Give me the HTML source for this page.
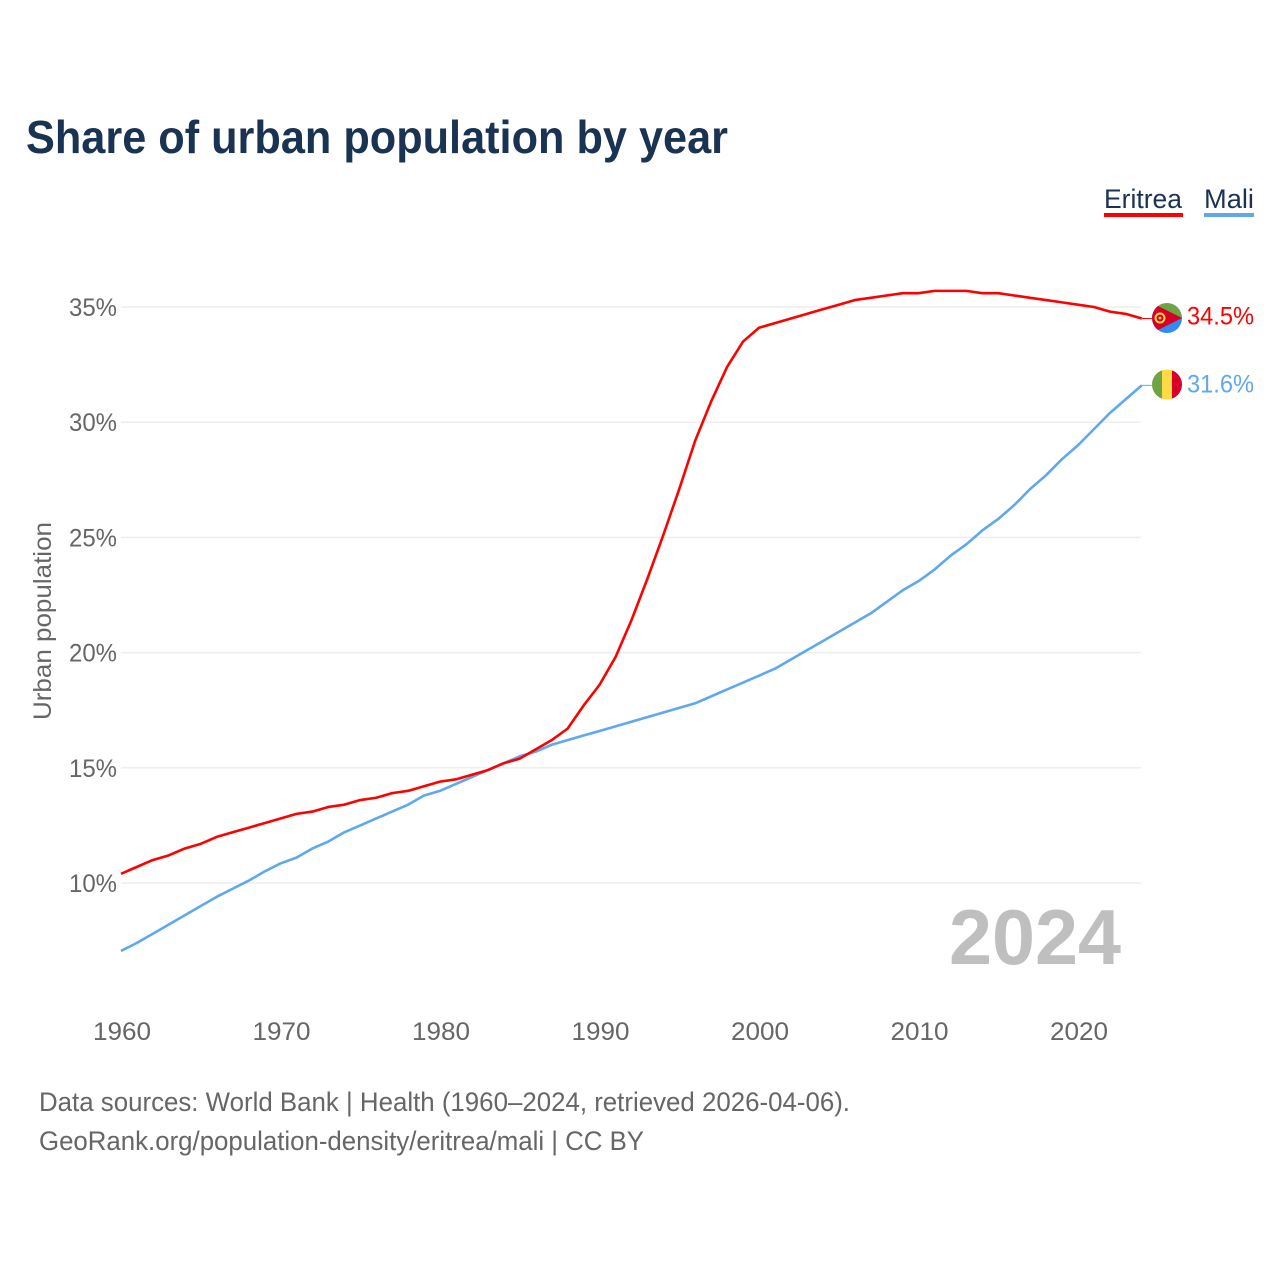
<!DOCTYPE html>
<html><head><meta charset="utf-8"><title>Share of urban population by year</title>
<style>html,body{margin:0;padding:0;background:#fff}svg{display:block}text{font-family:"Liberation Sans",sans-serif}</style></head>
<body>
<svg id="chart" width="1280" height="1280" viewBox="0 0 1280 1280" xmlns="http://www.w3.org/2000/svg">
<text x="26" y="153" font-size="46" font-weight="700" fill="#1a3353" textLength="702" lengthAdjust="spacingAndGlyphs">Share of urban population by year</text>
<g id="grid"></g><g id="yticks"></g><g id="xticks"></g>
<text transform="translate(51,621) rotate(-90)" text-anchor="middle" font-size="25" fill="#666" textLength="198" lengthAdjust="spacingAndGlyphs">Urban population</text>
<text x="949" y="964" font-size="78" font-weight="700" fill="#bfbfbf" textLength="172" lengthAdjust="spacingAndGlyphs">2024</text>
<g id="series"></g>
<g>
<text x="1104" y="208" font-size="27" fill="#1a3353" textLength="78" lengthAdjust="spacingAndGlyphs">Eritrea</text>
<rect x="1104" y="213" width="79" height="4" fill="#ff0000"/></g>
<g>
<text x="1204" y="208" font-size="27" fill="#1a3353" textLength="50" lengthAdjust="spacingAndGlyphs">Mali</text>
<rect x="1204" y="213" width="50" height="4" fill="#5fa8ee"/></g>
<defs>
<clipPath id="flag-clip-er"><circle cx="1167" cy="318" r="15"/></clipPath>
<clipPath id="flag-clip-ml"><circle cx="1167" cy="384.5" r="15"/></clipPath>
</defs>
<g clip-path="url(#flag-clip-er)">
<rect x="1152" y="303" width="30" height="15" fill="#6da544"/>
<rect x="1152" y="318" width="30" height="15" fill="#338af3"/>
<polygon points="1152,303 1182,318 1152,333" fill="#d80027"/>
<circle cx="1160" cy="318" r="4.5" fill="none" stroke="#ffda44" stroke-width="2"/>
<circle cx="1160" cy="318" r="1.4" fill="#ffda44"/>
</g>
<g clip-path="url(#flag-clip-ml)">
<rect x="1152" y="369" width="10" height="31" fill="#6da544"/>
<rect x="1162" y="369" width="10" height="31" fill="#ffda44"/>
<rect x="1172" y="369" width="10" height="31" fill="#d80027"/>
</g>
<text x="39" y="1111" font-size="27" fill="#666" textLength="811" lengthAdjust="spacingAndGlyphs">Data sources: World Bank | Health (1960–2024, retrieved 2026-04-06).</text>
<text x="39" y="1150" font-size="27" fill="#666" textLength="605" lengthAdjust="spacingAndGlyphs">GeoRank.org/population-density/eritrea/mali | CC BY</text>
</svg>
<script>
const startYear = 1960;
const eritreaValues = [10.4,10.7,11.0,11.2,11.5,11.7,12.0,12.2,12.4,12.6,12.8,13.0,13.1,13.3,13.4,13.6,13.7,13.9,14.0,14.2,14.4,14.5,14.7,14.9,15.2,15.4,15.8,16.2,16.7,17.7,18.6,19.8,21.4,23.2,25.1,27.1,29.2,30.9,32.4,33.5,34.1,34.3,34.5,34.7,34.9,35.1,35.3,35.4,35.5,35.6,35.6,35.7,35.7,35.7,35.6,35.6,35.5,35.4,35.3,35.2,35.1,35.0,34.8,34.7,34.5];
const maliValues = [7.05,7.4,7.8,8.2,8.6,9.0,9.4,9.75,10.1,10.5,10.85,11.1,11.5,11.8,12.2,12.5,12.8,13.1,13.4,13.8,14.0,14.3,14.6,14.9,15.2,15.5,15.7,16.0,16.2,16.4,16.6,16.8,17.0,17.2,17.4,17.6,17.8,18.1,18.4,18.7,19.0,19.3,19.7,20.1,20.5,20.9,21.3,21.7,22.2,22.7,23.1,23.6,24.2,24.7,25.3,25.8,26.4,27.1,27.7,28.4,29.0,29.7,30.4,31.0,31.6];
const yTicks = [10,15,20,25,30,35];
const xTicks = [1960,1970,1980,1990,2000,2010,2020];
const eritreaLabel = "34.5%";
const maliLabel = "31.6%";

const NS = "http://www.w3.org/2000/svg";
const xScale = y => 121 + (y - 1960) * 15.95;
const yScale = v => 883 - (v - 10) * 23.04;
function mk(parent, tag, attrs, text) {
  const el = document.createElementNS(NS, tag);
  for (const k in attrs) el.setAttribute(k, attrs[k]);
  if (text !== undefined) el.textContent = text;
  parent.appendChild(el);
  return el;
}
const grid = document.getElementById('grid');
const yG = document.getElementById('yticks');
const xG = document.getElementById('xticks');
const sG = document.getElementById('series');
yTicks.forEach(t => {
  const line = mk(grid, 'line', {x1:121, x2:1141, y1:yScale(t), y2:yScale(t), stroke:'#eeeeee', 'stroke-width':1.5});
  
  
  const label = mk(yG, 'text', {x:117, y:yScale(t)+9, 'text-anchor':'end', 'font-size':25, fill:'#666', textLength:48, lengthAdjust:'spacingAndGlyphs'}, t + '%');
  
  
});
xTicks.forEach(t => {
  const label = mk(xG, 'text', {x:xScale(t)+1, y:1040, 'text-anchor':'middle', 'font-size':25, fill:'#666', textLength:58, lengthAdjust:'spacingAndGlyphs'}, String(t));
  
  
});
function drawSeries(values, color, key, labelText) {
  const pts = values.map((v, i) => xScale(startYear + i).toFixed(2) + ',' + yScale(v).toFixed(2));
  const line = mk(sG, 'polyline', {points:pts.join(' '), fill:'none', stroke:color, 'stroke-width':2.6, 'stroke-linejoin':'round'});
  
  
  const last = values[values.length - 1];
  const lx = xScale(startYear + values.length - 1);
  const ly = yScale(last);
  const lead = mk(sG, 'line', {x1:lx, x2:lx + 10, y1:ly, y2:ly, stroke:color, 'stroke-width':1});
  
  
  const offset = key === 'eritrea' ? 6 : 7;
  const label = mk(sG, 'text', {x:1187, y:ly + offset, 'font-size':25, fill:color, textLength:67, lengthAdjust:'spacingAndGlyphs'}, labelText);
  
  
}
drawSeries(maliValues, '#5fa8ee', 'mali', maliLabel);
drawSeries(eritreaValues, '#ff0000', 'eritrea', eritreaLabel);
</script>
</body></html>
